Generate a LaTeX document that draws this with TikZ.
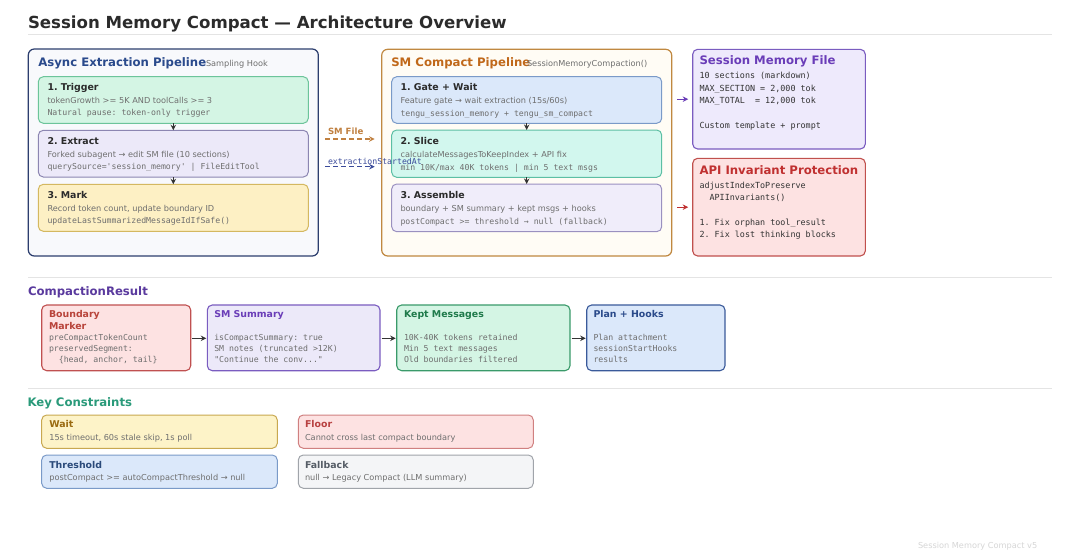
\documentclass[tikz,border=0pt]{standalone}
\usepackage{fontspec}
\setmainfont{DejaVu Sans}
\newfontfamily\monof{DejaVu Sans Mono}[Ligatures=TeXOff]
\usetikzlibrary{arrows.meta,calc}
\definecolor{ttlc}{HTML}{2B2B2B}
\definecolor{bodyg}{HTML}{6E6E6E}
\definecolor{darkt}{HTML}{333333}
\definecolor{arrowc}{HTML}{333333}
\definecolor{sepc}{HTML}{E4E4E4}
% async panel
\definecolor{aspB}{HTML}{2C3E6E}\definecolor{aspF}{HTML}{F8F9FC}\definecolor{aspT}{HTML}{2A4A8C}
\definecolor{grnF}{HTML}{D4F5E4}\definecolor{grnB}{HTML}{6CC49A}
\definecolor{lavF}{HTML}{ECE9F9}\definecolor{lavB}{HTML}{8C86B2}
\definecolor{yelF}{HTML}{FDF0C4}\definecolor{yelB}{HTML}{D4B860}
% sm panel
\definecolor{smpB}{HTML}{C08840}\definecolor{smpF}{HTML}{FFFCF5}\definecolor{smpT}{HTML}{C0681A}
\definecolor{bluF}{HTML}{DBE8FA}\definecolor{bluB}{HTML}{7A9AC8}
\definecolor{aquF}{HTML}{D2F7EE}\definecolor{aquB}{HTML}{5CBFA4}
\definecolor{la2F}{HTML}{F0EDFA}\definecolor{la2B}{HTML}{9A90C0}
% right column
\definecolor{purF}{HTML}{EEEAFC}\definecolor{purB}{HTML}{7A5CC0}\definecolor{purT}{HTML}{6A3DB8}
\definecolor{redF}{HTML}{FDE2E2}\definecolor{redB}{HTML}{C0504D}\definecolor{redT}{HTML}{C03030}
% lower rows
\definecolor{crT}{HTML}{5A3A9E}\definecolor{kcT}{HTML}{2A9A7A}
\definecolor{bndT}{HTML}{B8433A}\definecolor{bndB}{HTML}{C05050}
\definecolor{kptB}{HTML}{3A9A6A}\definecolor{kptT}{HTML}{1E7A4A}
\definecolor{plnB}{HTML}{3A5A9A}\definecolor{plnT}{HTML}{2A4A8A}
\definecolor{waitF}{HTML}{FDF3C8}\definecolor{waitB}{HTML}{C8A850}\definecolor{waitT}{HTML}{9A6A10}
\definecolor{thrT}{HTML}{2A4A7A}
\definecolor{flrB}{HTML}{D08080}\definecolor{flrT}{HTML}{B84040}
\definecolor{fbkF}{HTML}{F4F5F7}\definecolor{fbkB}{HTML}{A0A4AA}\definecolor{fbkT}{HTML}{555C66}
\definecolor{smfA}{HTML}{C08040}\definecolor{extA}{HTML}{3A4A9A}
\definecolor{footc}{HTML}{D6D6D6}

\tikzset{
  every node/.style={inner sep=0pt, outer sep=0pt},
  txt/.style={anchor=base west},
  hd/.style={txt, font=\fontsize{11.7}{14}\selectfont\bfseries},
  st/.style={txt, font=\fontsize{9.4}{11}\selectfont\bfseries},
  bs/.style={txt, font=\fontsize{8.2}{10}\selectfont, text=bodyg},
  bm/.style={txt, font=\monof\fontsize{8.2}{10}\selectfont, text=bodyg},
  dm/.style={txt, font=\monof\fontsize{8.4}{10}\selectfont, text=darkt},
  sub/.style={txt, font=\fontsize{8.2}{10}\selectfont, text=bodyg},
  panel/.style={draw, rounded corners=6pt, line width=1.2pt},
  card/.style={draw, rounded corners=5pt, line width=1pt},
  flow/.style={-{Stealth[length=5.5pt,width=5.5pt]}, line width=1.1pt, draw=arrowc},
  sep/.style={draw=sepc, line width=1pt},
}
\newcommand\bx[6]{%
  \pgfmathsetmacro\bxw{#4-#2}\pgfmathsetmacro\bxh{#5-#3}%
  \node[#6, anchor=north west, minimum width=\bxw pt, minimum height=\bxh pt] (#1) at (#2,#3) {};}

\begin{document}
\frenchspacing
\begin{tikzpicture}[x=1pt,y=-1pt]
\useasboundingbox (0,0) rectangle (1080,554);
\fill[white] (0,0) rectangle (1080,554);

% title
\node[txt, font=\fontsize{16.6}{20}\selectfont\bfseries, text=ttlc] (title) at (28,28.2) {Session Memory Compact — Architecture Overview};
\coordinate (s1a) at (28,34.5); \coordinate (s1b) at (1052,34.5);
\draw[sep] (s1a) -- (s1b);

% ---------- Async Extraction Pipeline ----------
\bx{asp}{28.3}{49}{318.3}{256}{panel, draw=aspB, fill=aspF}
\node[hd, text=aspT] (aspT) at (38.3,66.7) {Async Extraction Pipeline};
\node[sub] (aspS) at (206,66.2) {Sampling Hook};

\bx{trg}{38.3}{76.7}{308.3}{123.3}{card, draw=grnB, fill=grnF}
\node[st, text=ttlc] (trgT) at (47.5,90.7) {1. Trigger};
\node[bs] (trg1) at (47.5,103.5) {tokenGrowth >= 5K AND toolCalls >= 3};
\node[bm] (trg2) at (47.5,115.8) {Natural pause: token-only trigger};

\bx{ext}{38.3}{130.3}{308.3}{177}{card, draw=lavB, fill=lavF}
\node[st, text=ttlc] (extT) at (47.5,144.7) {2. Extract};
\node[bs] (ext1) at (47.5,157.8) {Forked subagent → edit SM file (10 sections)};
\node[bm] (ext2) at (47.5,169.5) {querySource='session\_memory' | FileEditTool};

\bx{mrk}{38.3}{184.3}{308.3}{231.3}{card, draw=yelB, fill=yelF}
\node[st, text=ttlc] (mrkT) at (47.5,198.4) {3. Mark};
\node[bs] (mrk1) at (47.5,211.8) {Record token count, update boundary ID};
\node[bm] (mrk2) at (47.5,223.5) {updateLastSummarizedMessageIdIfSafe()};

\draw[flow] (trg.south) -- (ext.north);
\draw[flow] (ext.south) -- (mrk.north);

% ---------- SM Compact Pipeline ----------
\bx{smp}{381.7}{49.3}{671.7}{256}{panel, draw=smpB, fill=smpF}
\node[hd, text=smpT] (smpT) at (391.3,66.7) {SM Compact Pipeline};
\node[sub] (smpS) at (527,66.2) {SessionMemoryCompaction()};

\bx{gate}{391.7}{76.7}{661.7}{123.3}{card, draw=bluB, fill=bluF}
\node[st, text=ttlc] (gateT) at (400.5,90.1) {1. Gate + Wait};
\node[bs] (gate1) at (400.5,103.8) {Feature gate → wait extraction (15s/60s)};
\node[bm] (gate2) at (400.5,116.1) {tengu\_session\_memory + tengu\_sm\_compact};

\bx{slc}{391.7}{130}{661.7}{177.3}{card, draw=aquB, fill=aquF}
\node[st, text=ttlc] (slcT) at (400.5,144.1) {2. Slice};
\node[bs] (slc1) at (400.5,157.8) {calculateMessagesToKeepIndex + API fix};
\node[bm] (slc2) at (400.5,170.1) {min 10K/max 40K tokens | min 5 text msgs};

\bx{asm}{391.7}{184}{661.7}{231.7}{card, draw=la2B, fill=la2F}
\node[st, text=ttlc] (asmT) at (400.5,198.7) {3. Assemble};
\node[bs] (asm1) at (400.5,211.5) {boundary + SM summary + kept msgs + hooks};
\node[bm] (asm2) at (400.5,224.5) {postCompact >= threshold → null (fallback)};

\draw[flow] (gate.south) -- (slc.north);
\draw[flow] (slc.south) -- (asm.north);

% ---------- links between panels ----------
\coordinate (ySMF) at (0,139);
\coordinate (yEXT) at (0,166.7);
\draw[dashed, dash pattern=on 5pt off 3pt, line width=1.1pt, draw=smfA, -{Stealth[length=5.5pt,width=5.5pt]}, shorten <=7pt, shorten >=7pt] (asp.east |- ySMF) -- (smp.west |- ySMF);
\node[txt, font=\fontsize{8.6}{10}\selectfont\bfseries, text=smfA] (smfL) at (328,134.2) {SM File};
\draw[dashed, dash pattern=on 5pt off 3pt, line width=1.1pt, draw=extA, -{Stealth[length=5.5pt,width=5.5pt]}, shorten <=7pt, shorten >=7pt] (asp.east |- yEXT) -- (smp.west |- yEXT);
\node[txt, font=\monof\fontsize{8.2}{10}\selectfont, text=extA] (extL) at (328,164.5) {extractionStartedAt};

% ---------- right column ----------
\bx{smf}{692.7}{49.3}{865.3}{149}{card, line width=1.1pt, draw=purB, fill=purF}
\node[hd, text=purT] (smfT) at (699.5,64.9) {Session Memory File};
\node[dm] (smf1) at (699.5,78.5) {10 sections (markdown)};
\node[dm] (smf2) at (699.5,91.1) {MAX\_SECTION = 2,000 tok};
\node[dm] (smf3) at (699.5,103.8) {MAX\_TOTAL~~= 12,000 tok};
\node[dm] (smf4) at (699.5,128.8) {Custom template + prompt};

\bx{api}{692.7}{158.3}{865.3}{256}{card, line width=1.1pt, draw=redB, fill=redF}
\node[hd, text=redT] (apiT) at (699.5,174.2) {API Invariant Protection};
\node[dm] (api1) at (699.5,188.5) {adjustIndexToPreserve};
\node[dm] (api2) at (699.5,200.5) {~~APIInvariants()};
\node[dm] (api3) at (699.5,225.5) {1. Fix orphan tool\_result};
\node[dm] (api4) at (699.5,237.8) {2. Fix lost thinking blocks};

\draw[-{Stealth[length=5.5pt,width=5.5pt]}, line width=1.1pt, draw=purT, shorten <=5.5pt, shorten >=4.5pt] (smp.east |- smf.west) -- (smf.west);
\draw[-{Stealth[length=5.5pt,width=5.5pt]}, line width=1.1pt, draw=redT, shorten <=5.5pt, shorten >=4.5pt] (smp.east |- api.west) -- (api.west);

% ---------- CompactionResult ----------
\coordinate (s2a) at (28,277); \coordinate (s2b) at (1052,277);
\draw[sep] (s2a) -- (s2b);
\node[hd, text=crT] (crT) at (28,295.2) {CompactionResult};

\bx{bnd}{41.7}{305}{190.7}{370.7}{card, line width=1.1pt, draw=bndB, fill=redF}
\node[st, text=bndT] (bndT1) at (49,317.7) {Boundary};
\node[st, text=bndT] (bndT2) at (49,329.6) {Marker};
\node[bm] (bnd1) at (49,340.7) {preCompactTokenCount};
\node[bm] (bnd2) at (49,351.8) {preservedSegment:};
\node[bm] (bnd3) at (49,362.4) {~~\{head, anchor, tail\}};

\bx{sms}{207.3}{305}{380}{370.7}{card, line width=1.1pt, draw=purB, fill=lavF}
\node[st, text=purT] (smsT) at (214.3,317.7) {SM Summary};
\node[bm] (sms1) at (214.3,340.7) {isCompactSummary: true};
\node[bm] (sms2) at (214.3,351.8) {SM notes (truncated >12K)};
\node[bm] (sms3) at (214.3,362.4) {"Continue the conv..."};

\bx{kpt}{396.7}{305}{570}{370.7}{card, line width=1.1pt, draw=kptB, fill=grnF}
\node[st, text=kptT] (kptT) at (404,317.7) {Kept Messages};
\node[bm] (kpt1) at (404,340.7) {10K-40K tokens retained};
\node[bm] (kpt2) at (404,351.8) {Min 5 text messages};
\node[bm] (kpt3) at (404,362.4) {Old boundaries filtered};

\bx{pln}{586.7}{305}{725}{370.7}{card, line width=1.1pt, draw=plnB, fill=bluF}
\node[st, text=plnT] (plnT) at (593.5,317.7) {Plan + Hooks};
\node[bm] (pln1) at (593.5,340.7) {Plan attachment};
\node[bm] (pln2) at (593.5,351.8) {sessionStartHooks};
\node[bm] (pln3) at (593.5,362.4) {results};

\coordinate (yCR) at (0,338.3);
\draw[flow, shorten <=1.5pt, shorten >=1pt] (bnd.east |- yCR) -- (sms.west |- yCR);
\draw[flow, shorten <=1.5pt, shorten >=1pt] (sms.east |- yCR) -- (kpt.west |- yCR);
\draw[flow, shorten <=1.5pt, shorten >=1pt] (kpt.east |- yCR) -- (pln.west |- yCR);

% ---------- Key Constraints ----------
\coordinate (s3a) at (28,388); \coordinate (s3b) at (1052,388);
\draw[sep] (s3a) -- (s3b);
\node[hd, text=kcT] (kcT) at (27.5,406.5) {Key Constraints};

\bx{wait}{41.7}{415}{277.3}{448.3}{card, draw=waitB, fill=waitF}
\node[st, text=waitT] (waitT) at (49.3,427.7) {Wait};
\node[bs] (wait1) at (49.3,440.7) {15s timeout, 60s stale skip, 1s poll};

\bx{thr}{41.7}{455}{277.3}{488.3}{card, draw=bluB, fill=bluF}
\node[st, text=thrT] (thrT) at (49.3,468.4) {Threshold};
\node[bs] (thr1) at (49.3,480.7) {postCompact >= autoCompactThreshold → null};

\bx{flr}{298.3}{415}{533.3}{448.3}{card, draw=flrB, fill=redF}
\node[st, text=flrT] (flrT) at (305,427.7) {Floor};
\node[bs] (flr1) at (305,440.7) {Cannot cross last compact boundary};

\bx{fbk}{298.3}{455}{533.3}{488.3}{card, draw=fbkB, fill=fbkF}
\node[st, text=fbkT] (fbkT) at (305,468.4) {Fallback};
\node[bs] (fbk1) at (305,480.7) {null → Legacy Compact (LLM summary)};

% footer
\node[txt, font=\fontsize{8.2}{10}\selectfont, text=footc] (foot) at (918,548) {Session Memory Compact v5};
\end{tikzpicture}
\end{document}
